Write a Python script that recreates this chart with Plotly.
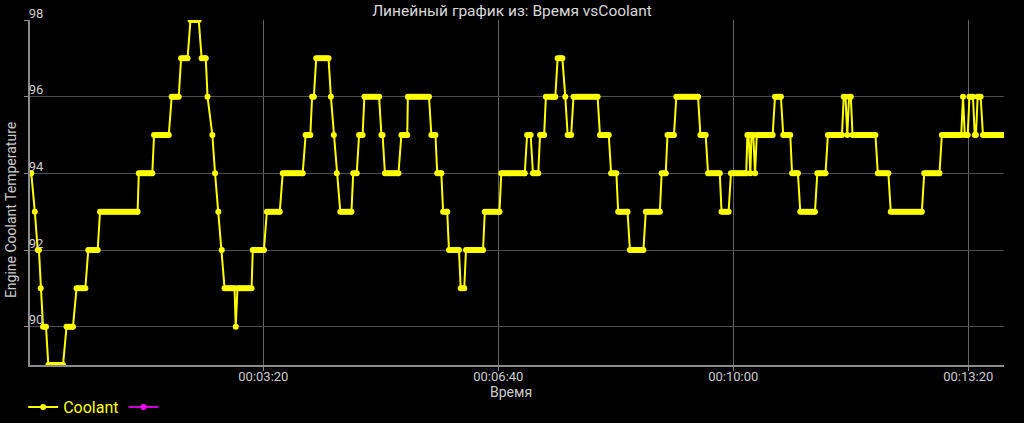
import plotly.graph_objects as go

# Runs of constant coolant temperature: (level, first sample time s, last sample time s)
run_levels = [94, 93, 92, 91, 90, 89, 90, 91, 92, 93, 94, 95, 96, 97, 98, 97, 96, 95, 94, 93, 92,
              91, 90, 91, 92, 93, 94, 95, 96, 97, 96, 95, 94, 93, 94, 95, 96, 95, 94, 95, 96,
              95, 94, 93, 92, 91, 92, 93, 94, 95, 94, 95, 96, 97, 96, 95, 96, 95, 94, 93, 92,
              93, 94, 95, 96, 95, 94, 93, 94, 95, 94, 95, 94, 95, 96, 95, 94, 93, 94, 95, 96,
              95, 96, 95, 94, 93, 94, 95, 96, 95, 96, 95, 96, 95]
run_starts = [1.5, 5.5, 8, 10.5, 12.5, 17, 32.5, 41, 51, 61, 94, 107, 122, 130, 138, 147.5, 152.5, 156.6, 158.9, 161.7, 164.6,
              167, 176.5, 178, 191, 203, 216.5, 236, 241.5, 245, 257.5, 260, 262.5, 265.5, 276.5, 281.5, 286, 300.5, 303.5, 317.5, 323,
              343, 348, 353, 358, 368, 372.5, 388.5, 402.5, 424.5, 429.5, 435.5, 440.5, 450.5, 457, 459, 464, 486.5, 496, 502, 512,
              525.5, 539, 544, 551.5, 572, 578.5, 590, 598, 612, 614.5, 615.5, 618.5, 620, 635.5, 642.5, 650, 657, 671.5, 680.5, 694,
              697, 698.5, 701.5, 723, 734, 762.5, 777.5, 795.5, 797, 801, 805.5, 808, 812.5]
run_ends = [2.5, 5.5, 9, 10.5, 15, 29.5, 38, 48.5, 59, 93, 105.5, 119.5, 128, 135.5, 145, 151, 152.5, 156.6, 158.9, 161.7, 164.6,
            175.5, 176.5, 190, 200.5, 214, 233.5, 240, 243, 255.5, 257.5, 260, 262.5, 275, 279.5, 284.5, 298.5, 301.5, 315, 322.5, 341,
            346.5, 351.5, 356.5, 366.5, 371, 387, 401, 422.5, 427.5, 434, 439, 448.5, 454.5, 457, 462, 484.5, 494, 500.5, 510, 523.5,
            537.5, 542.5, 549.5, 570, 576.5, 588.5, 596, 611, 613, 614.5, 617, 618.5, 633.5, 640.5, 648.5, 655, 669.5, 678.5, 692.5, 695.5,
            697, 700, 721, 732, 760.5, 775.5, 794, 795.5, 799.5, 804, 806.5, 810.5, 830.5]

sample_step = 1.5  # logging cadence inside a run

times, values = [], []
for lvl, t0, t1 in zip(run_levels, run_starts, run_ends):
    t = t0
    while t < t1 - 1e-9:
        times.append(t)
        values.append(lvl)
        t += sample_step
    times.append(t1)
    values.append(lvl)

x_tickvals = [200, 400, 600, 800]
x_ticktext = ["00:03:20", "00:06:40", "00:10:00", "00:13:20"]
y_tickvals = [90, 92, 94, 96, 98]

fig = go.Figure()
fig.add_trace(go.Scatter(
    x=times, y=values, mode="lines+markers", name="Coolant",
    line=dict(color="#ffff00", width=2),
    marker=dict(color="#ffff00", size=6),
))
fig.add_trace(go.Scatter(
    x=[None], y=[None], mode="lines+markers", name=" ",
    line=dict(color="#cc00cc", width=2),
    marker=dict(color="#ff00ff", size=6),
))

fig.update_layout(
    width=1024, height=423,
    paper_bgcolor="#000000", plot_bgcolor="#000000",
    margin=dict(l=30, r=20, t=20, b=58, autoexpand=False),
    font=dict(family="Roboto", color="#cccccc", size=13),
    title=dict(text="Линейный график из: Время vsCoolant", x=0.4949, xref="paper",
               xanchor="center", y=0.974, yref="container", yanchor="middle",
               font=dict(size=15.5, color="#d8d8d8")),
    showlegend=True,
    legend=dict(orientation="h", x=-0.007, xanchor="left", y=-0.122, yanchor="middle",
                font=dict(size=16, color="#ffff00"), bgcolor="rgba(0,0,0,0)",
                itemwidth=30, tracegroupgap=0),
    xaxis=dict(range=[1.4, 830.4], tickvals=x_tickvals, ticktext=x_ticktext,
               automargin=False,
               showgrid=True, gridcolor="#666666", gridwidth=1,
               showline=True, linecolor="#8a8a8a", linewidth=2,
               ticks="outside", ticklen=4, tickcolor="#8a8a8a",
               ticklabelstandoff=-6,
               zeroline=False, tickfont=dict(size=13, color="#cccccc")),
    yaxis=dict(range=[89, 98], tickvals=y_tickvals,
               automargin=False,
               showgrid=True, gridcolor="#4d4d4d", gridwidth=1,
               showline=True, linecolor="#8a8a8a", linewidth=2,
               ticks="outside", ticklen=4, tickcolor="#8a8a8a",
               ticklabelposition="outside", ticklabelstandoff=-22, ticklabelshift=-7,
               zeroline=False, tickfont=dict(size=13, color="#cccccc")),
    annotations=[
        dict(text="Engine Coolant Temperature", textangle=-90,
             xref="paper", yref="paper", x=-0.0195, y=0.449,
             xanchor="center", yanchor="middle", showarrow=False,
             font=dict(size=14, color="#cccccc")),
        dict(text="Время", xref="paper", yref="paper", x=0.494, y=-0.078,
             xanchor="center", yanchor="middle", showarrow=False,
             font=dict(size=14, color="#cccccc")),
    ],
)

fig.write_html("out.html", config={"displayModeBar": False},
               post_script="document.body.style.margin='0px'; document.body.style.overflow='hidden';")
